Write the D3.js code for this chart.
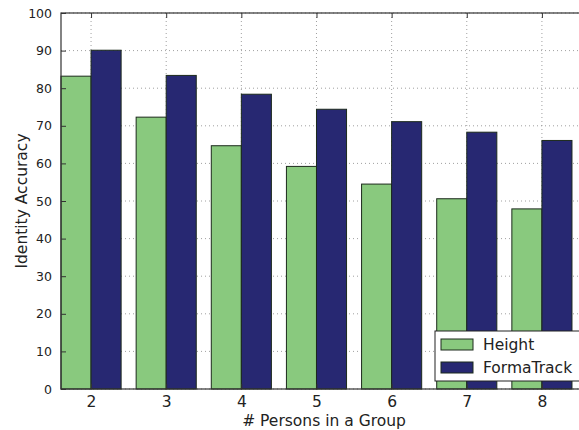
<!DOCTYPE html>
<html>
<head>
<meta charset="utf-8">
<script src="https://cdn.jsdelivr.net/npm/d3@7"></script>
<style>
  html, body { margin: 0; padding: 0; background: #fff; overflow: hidden; }
  text { font-family: "DejaVu Sans", sans-serif; fill: #222; }
</style>
</head>
<body>
<svg id="chart" width="579" height="430"></svg>
<script>
// Group sizes and accuracy (%) per method
const groupSizes = [2, 3, 4, 5, 6, 7, 8];
const heightAcc = [83.2, 72.3, 64.7, 59.2, 54.5, 50.6, 47.9];
const formaTrackAcc = [90.1, 83.4, 78.4, 74.4, 71.1, 68.3, 66.1];
const yTicks = [0, 10, 20, 30, 40, 50, 60, 70, 80, 90, 100];
const seriesNames = ["Height", "FormaTrack"];
const seriesColors = ["#89c97e", "#272872"];

const svg = d3.select("#chart");
const m = { left: 61, top: 13, right: 587, bottom: 389 };

const x = d3.scaleLinear().domain([1.6, 8.6]).range([m.left, m.right]);
const y = d3.scaleLinear().domain([0, 100]).range([m.bottom, m.top]);
const barW = 0.4;

// dotted grid
const grid = svg.append("g");
yTicks.forEach(t => {
  grid.append("line")
    .attr("x1", m.left).attr("x2", m.right)
    .attr("y1", y(t)).attr("y2", y(t))
    .attr("stroke", "#888").attr("stroke-width", 0.8)
    .attr("stroke-dasharray", "1,3");
});
groupSizes.forEach(g => {
  grid.append("line")
    .attr("x1", x(g)).attr("x2", x(g))
    .attr("y1", m.top).attr("y2", m.bottom)
    .attr("stroke", "#888").attr("stroke-width", 0.8)
    .attr("stroke-dasharray", "1,3");
});

// bars
const series = [heightAcc, formaTrackAcc];
series.forEach((vals, si) => {
  svg.append("g").selectAll("rect")
    .data(groupSizes.map((g, i) => ({ g, v: vals[i] })))
    .join("rect")
    .attr("x", d => x(d.g - barW + si * barW))
    .attr("width", d => x(d.g + barW) - x(d.g))
    .attr("y", d => y(d.v))
    .attr("height", d => y(0) - y(d.v))
    .attr("fill", seriesColors[si])
    .attr("stroke", "#1c2a1c")
    .attr("stroke-width", 1);
});

// axes frame
svg.append("rect")
  .attr("x", m.left).attr("y", m.top)
  .attr("width", m.right - m.left).attr("height", m.bottom - m.top)
  .attr("fill", "none").attr("stroke", "#333").attr("stroke-width", 1.2);

// y axis
const yAxis = d3.axisLeft(y).tickValues(yTicks).tickSizeInner(-5).tickSizeOuter(0).tickPadding(9);
const yg = svg.append("g").attr("transform", `translate(${m.left},0)`).call(yAxis);
yg.select(".domain").remove();
yg.selectAll("line").attr("stroke", "#333");
yg.selectAll("text").style("font-size", "12.5px").attr("fill", "#222");

// x axis
const xAxis = d3.axisBottom(x).tickValues(groupSizes).tickFormat(d3.format("d"))
  .tickSizeInner(-5).tickSizeOuter(0).tickPadding(7);
const xg = svg.append("g").attr("transform", `translate(0,${m.bottom})`).call(xAxis);
xg.select(".domain").remove();
xg.selectAll("line").attr("stroke", "#333");
xg.selectAll("text").style("font-size", "15.5px").attr("fill", "#222");

// top ticks
const xTop = d3.axisTop(x).tickValues(groupSizes).tickSizeInner(-5).tickSizeOuter(0).tickFormat("");
const xtg = svg.append("g").attr("transform", `translate(0,${m.top})`).call(xTop);
xtg.select(".domain").remove();
xtg.selectAll("line").attr("stroke", "#333");

// axis labels
svg.append("text")
  .attr("x", (m.left + m.right) / 2).attr("y", 426)
  .attr("text-anchor", "middle")
  .style("font-size", "15.5px")
  .text("# Persons in a Group");
svg.append("text")
  .attr("transform", `translate(27,${(m.top + m.bottom) / 2}) rotate(-90)`)
  .attr("text-anchor", "middle")
  .style("font-size", "15.5px")
  .text("Identity Accuracy");

// legend
const lg = svg.append("g").attr("transform", "translate(435,331)");
lg.append("rect").attr("width", 160).attr("height", 50)
  .attr("fill", "#fff").attr("stroke", "#222").attr("stroke-width", 1);
seriesNames.forEach((name, i) => {
  lg.append("rect")
    .attr("x", 6).attr("y", 8 + i * 23).attr("width", 32).attr("height", 11)
    .attr("fill", seriesColors[i]).attr("stroke", "#1c2a1c").attr("stroke-width", 1);
  lg.append("text")
    .attr("x", 48).attr("y", 19 + i * 23)
    .style("font-size", "15.5px")
    .text(name);
});
</script>
</body>
</html>
